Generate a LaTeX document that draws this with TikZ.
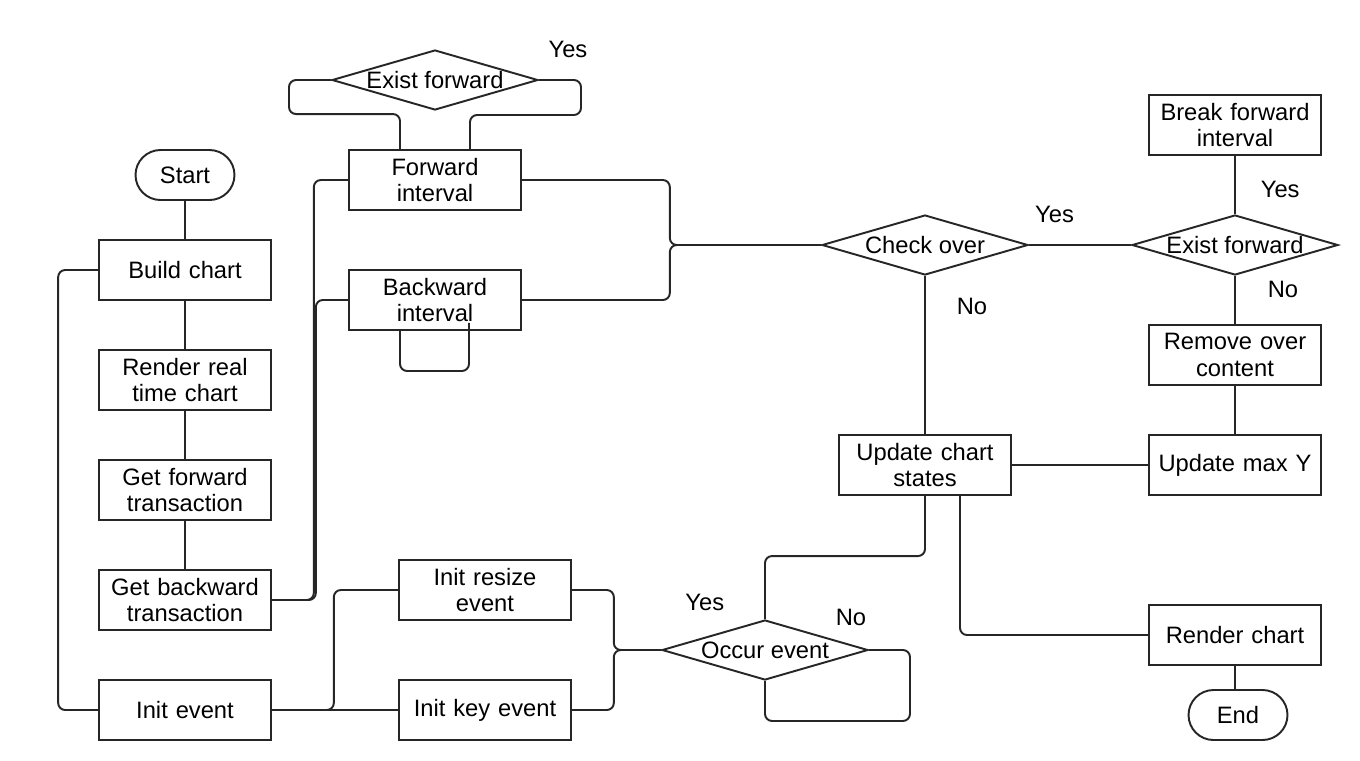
\documentclass[tikz,border=0pt]{standalone}
\usepackage{fontspec}
\setmainfont{Liberation Sans}
\usetikzlibrary{shapes,arrows}

\begin{document}
\begin{tikzpicture}[node distance = 2.2cm, line width=1.1pt,
    font=\fontsize{13.5}{15.2}\selectfont]
  \tikzstyle{terminator} = [rounded rectangle, draw=black!85,
    minimum width=2.12cm, minimum height=1cm, inner sep=2pt]
  \tikzstyle{decision} = [diamond, draw=black!85, aspect=3.5,
    minimum width=4.12cm, minimum height=1.2cm, inner sep=0pt]
  \tikzstyle{block} = [rectangle, draw=black!85, text width=3.2cm, text centered,
    minimum width=3.4cm, minimum height=1.2cm]
  \tikzstyle{line} = [draw, black!85, text=black, rounded corners=4pt]

  \useasboundingbox (0,0) rectangle (27.2,-15.2);

  % Place nodes
  \node [terminator] (start) at (3.7,-3.5) {Start};
  \node [block, below of=start, node distance=1.9cm] (build) {Build chart};
  \node [block, below of=build] (render) {Render real\\ time chart};
  \node [block, below of=render] (getfwd) {Get forward\\ transaction};
  \node [block, below of=getfwd] (getbwd) {Get backward\\ transaction};
  \node [block, below of=getbwd] (initev) {Init event};

  \node [block, right of=start, node distance=5cm, yshift=-0.1cm] (fwdint) {Forward\\ interval};
  \node [block, below of=fwdint, node distance=2.4cm] (bwdint) {Backward\\ interval};
  \node [decision, above of=fwdint, node distance=2cm] (existfwd) {Exist forward};

  \node [block, right of=initev, node distance=6cm] (initkey) {Init key event};
  \node [block, above of=initkey, node distance=2.4cm] (initresize) {Init resize\\ event};
  \node [decision, right of=initkey, node distance=5.6cm, yshift=1.2cm] (occur) {Occur event};

  \node [decision, right of=bwdint, node distance=9.8cm, yshift=1.1cm] (check) {Check over};
  \node [block, below of=check, node distance=4.4cm] (update) {Update chart\\ states};
  \node [decision, right of=check, node distance=6.2cm] (existbrk) {Exist forward};
  \node [block, above of=existbrk, node distance=2.4cm] (brkfwd) {Break forward\\ interval};
  \node [block, below of=existbrk] (remove) {Remove over\\ content};
  \node [block, below of=remove] (maxy) {Update max Y};
  \node [block, below of=maxy, node distance=3.4cm] (renderchart) {Render chart};
  \node [terminator, below of=renderchart, node distance=1.6cm, xshift=0.06cm] (end) {End};

  % Draw edges
  \path [line] (start) -- (build);
  \path [line] (build) -- (render);
  \path [line] (render) -- (getfwd);
  \path [line] (getfwd) -- (getbwd);
  \path [line] (build.west) -- ++(-0.8cm,0) |- (initev.west);

  \path [line] (getbwd.east) -- ++(0.84cm,0) |- (fwdint.west);
  \path [line] (getbwd.east) -- ++(0.88cm,0) |- (bwdint.west);

  \path [line] ([xshift=-0.7cm]fwdint.north) |- ++(-2.22cm,0.7cm) |- (existfwd.west);
  \path [line] (existfwd.east) node [xshift=0.58cm, yshift=0.62cm] {Yes}
    -| ++(0.84cm,-0.7cm) -| ([xshift=0.7cm]fwdint.north);
  \path [line] ([xshift=-0.7cm]bwdint.south) -- ++(0,-0.8cm)
    -| ([xshift=0.68cm,yshift=0.16cm]bwdint.south);

  \path [line] (fwdint.east) -- ++(2.96cm,0) |- (check.west);
  \path [line] (bwdint.east) -- ++(2.96cm,0) |- (check.west);

  \path [line] (check) -- node [pos=0.25, above=0.3cm] {Yes} (existbrk);
  \path [line] (check) -- node [pos=0.19, right=0.5cm] {No} (update);
  \path [line] (existbrk) -- node [pos=0.42, right=0.38cm] {Yes} (brkfwd);
  \path [line] (existbrk) -- node [pos=0.27, right=0.52cm] {No} (remove);
  \path [line] (remove) -- (maxy);
  \path [line] (update) -- (maxy);
  \path [line] ([xshift=0.7cm]update.south) |- (renderchart.west);
  \path [line] (renderchart) -- ([xshift=-0.06cm]end.north);

  \path [line] (initev) -- (initkey);
  \path [line] (initev.east) -- ++(1.24cm,0) |- (initresize.west);
  \path [line] (initresize.east) -- ++(0.84cm,0) |- (occur.west);
  \path [line] (initkey.east) -- ++(0.84cm,0) |- (occur.west);
  \path [line] (occur.north) -- node [pos=0.27, left=0.68cm] {Yes} ++(0,1.26cm) -| (update.south);
  \path [line] (occur.east) node [xshift=-0.36cm, yshift=0.66cm] {No}
    -- ++(0.82cm,0) |- ([yshift=-0.8cm]occur.south) -- (occur.south);

\end{tikzpicture}
\end{document}
